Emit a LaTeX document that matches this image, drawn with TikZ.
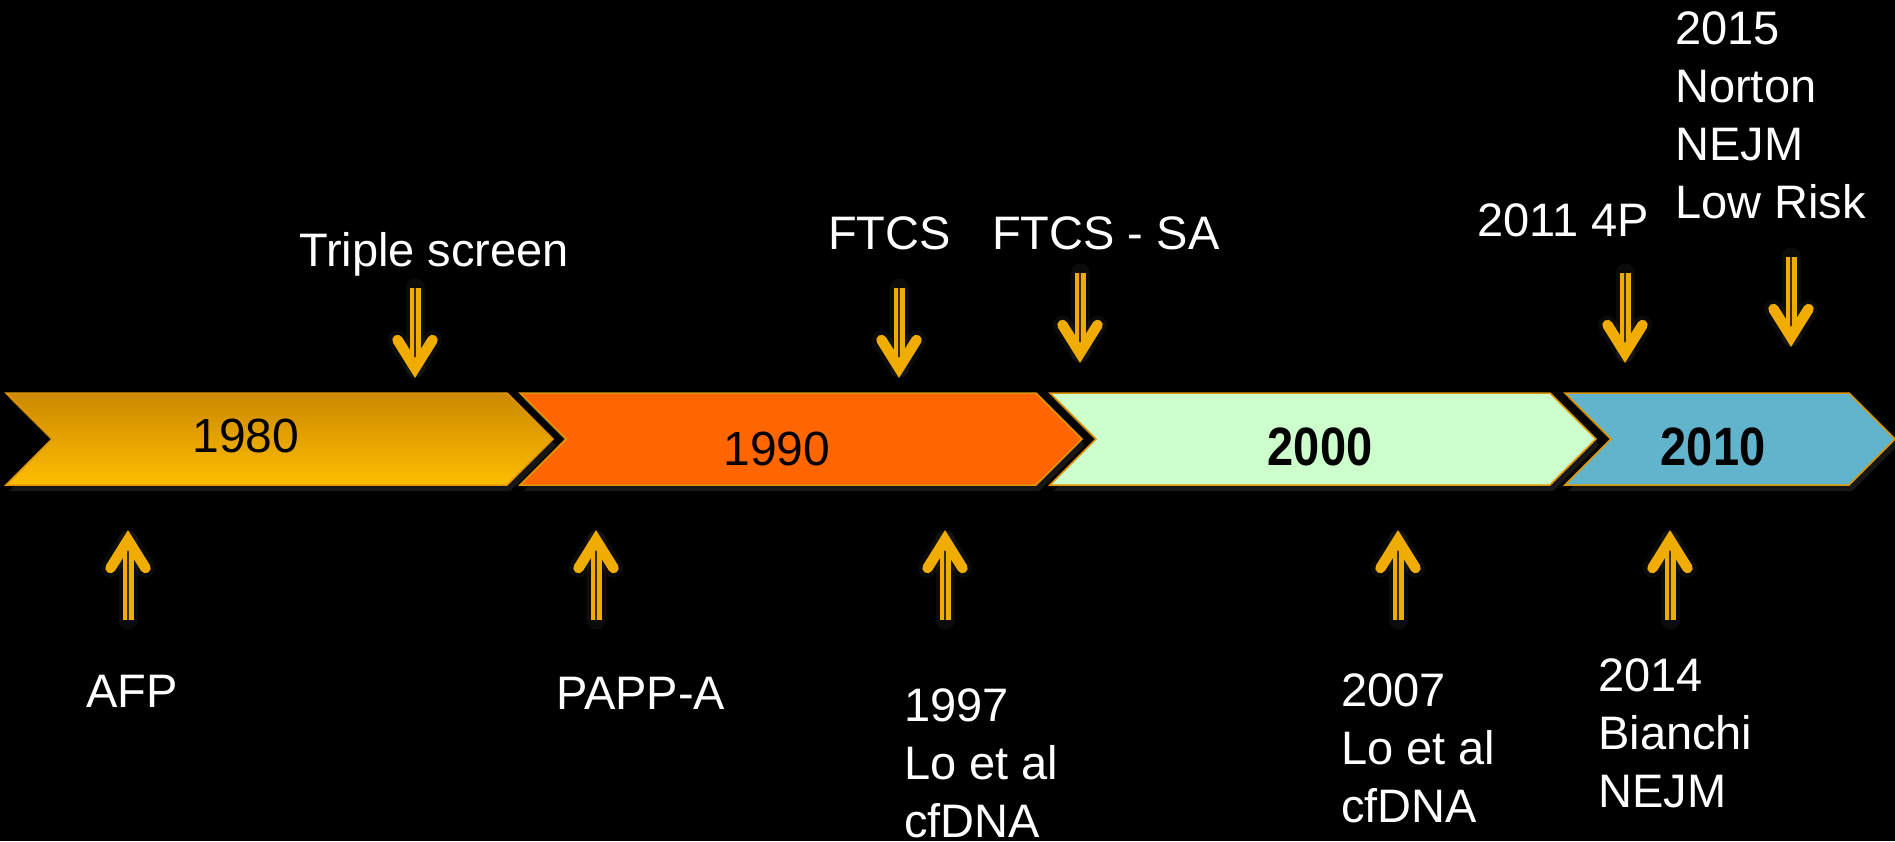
\documentclass[tikz,border=0pt]{standalone}
\usepackage{fontspec}
\setmainfont{Liberation Sans}
\usepackage{graphicx}
\usetikzlibrary{calc}
\definecolor{arrowc}{RGB}{240,172,0}
\definecolor{c1top}{RGB}{204,136,0}
\definecolor{c1bot}{RGB}{253,190,0}
\definecolor{c2}{RGB}{255,102,0}
\definecolor{c3}{RGB}{204,255,204}
\definecolor{c4}{RGB}{98,180,205}
\definecolor{edgec}{RGB}{225,150,0}
\tikzset{
  lbl/.style={text=white, font=\fontsize{47}{58}\selectfont, inner sep=0pt, align=left, anchor=base west},
  yearlbl/.style={text=black, font=\fontsize{48}{56}\selectfont, inner sep=0pt, anchor=base},
  yearbold/.style={text=black, font=\fontsize{54}{60}\selectfont\bfseries, inner sep=0pt, anchor=base},
  chev/.style={draw=edgec, line width=1.5pt, line join=miter},
  chevshadow/.style={fill=gray, opacity=0.18},
  shaft/.style={draw=arrowc, double=black!75!arrowc, double distance=1.8pt, line width=4.6pt},
  head/.style={draw=arrowc, line width=10.5pt, line cap=round, line join=miter},
  glow/.style={draw=gray, opacity=0.09, line width=19pt, line cap=round, line join=round},
}
\newcommand\tldown[3]{%
  \coordinate (#1s) at (#2,#3);
  \coordinate (#1v) at (#2,#3+80);
  \draw[glow] (#1s) -- (#1v);
  \draw[glow] ($(#1v)+(-17.5,-28)$) -- (#1v) -- ($(#1v)+(17.5,-28)$);
  \draw[shaft] (#1s) -- (#1v);
  \draw[head] ($(#1v)+(-17.5,-28)$) -- (#1v) -- ($(#1v)+(17.5,-28)$);
}
\newcommand\tlup[3]{%
  \coordinate (#1s) at (#2,#3);
  \coordinate (#1v) at (#2,#3-80);
  \draw[glow] (#1s) -- (#1v);
  \draw[glow] ($(#1v)+(-17.5,28)$) -- (#1v) -- ($(#1v)+(17.5,28)$);
  \draw[shaft] (#1s) -- (#1v);
  \draw[head] ($(#1v)+(-17.5,28)$) -- (#1v) -- ($(#1v)+(17.5,28)$);
}
\begin{document}
\begin{tikzpicture}[x=1pt,y=-1pt]
\useasboundingbox (0,0) rectangle (1895,841);
\fill[black] (0,0) rectangle (1895,841);

% shadows of chevrons
\begin{scope}[shift={(3,6)}]
\fill[chevshadow] (6,393) -- (507,393) -- (553,439) -- (507,485) -- (6,485) -- (52,439) -- cycle;
\fill[chevshadow] (520,393) -- (1036,393) -- (1082,439) -- (1036,485) -- (520,485) -- (566,439) -- cycle;
\fill[chevshadow] (1050,393) -- (1550,393) -- (1596,439) -- (1550,485) -- (1050,485) -- (1096,439) -- cycle;
\fill[chevshadow] (1565,393) -- (1849,393) -- (1895,439) -- (1849,485) -- (1565,485) -- (1611,439) -- cycle;
\end{scope}

% chevrons
\shade[top color=c1top, bottom color=c1bot] (6,393) -- (507,393) -- (553,439) -- (507,485) -- (6,485) -- (52,439) -- cycle;
\draw[chev] (6,393) -- (507,393) -- (553,439) -- (507,485) -- (6,485) -- (52,439) -- cycle;
\filldraw[chev, fill=c2] (520,393) -- (1036,393) -- (1082,439) -- (1036,485) -- (520,485) -- (566,439) -- cycle;
\filldraw[chev, fill=c3] (1050,393) -- (1550,393) -- (1596,439) -- (1550,485) -- (1050,485) -- (1096,439) -- cycle;
\filldraw[chev, fill=c4] (1565,393) -- (1849,393) -- (1895,439) -- (1849,485) -- (1565,485) -- (1611,439) -- cycle;

\node[yearlbl] (y1980) at (246,452) {1980};
\node[yearlbl] (y1990) at (777,465) {1990};
\node[yearbold] (y2000) at (1320,465) {\scalebox{0.87}[1]{2000}};
\node[yearbold] (y2010) at (1713,465) {\scalebox{0.87}[1]{2010}};

% arrows above
\tldown{triple}{415}{288}
\tldown{ftcsa}{899}{288}
\tldown{ftcssaa}{1080}{273}
\tldown{fourp}{1625}{273}
\tldown{nortona}{1791}{257}

% arrows below
\tlup{afpa}{128}{620}
\tlup{pappa}{596}{620}
\tlup{loa}{945}{620}
\tlup{lob}{1398}{620}
\tlup{bianchia}{1670}{620}

% labels (base anchor = baseline of the last line)
\node[lbl] (tripleL) at (299,266) {Triple screen};
\node[lbl] (ftcsL) at (828,249) {FTCS};
\node[lbl] (ftcssaL) at (992,249) {FTCS - SA};
\node[lbl] (fourpL) at (1477,236) {2011 4P};
\node[lbl] (nortonL) at (1675,218) {2015\\Norton\\NEJM\\Low Risk};
\node[lbl] (afpL) at (86,707) {AFP};
\node[lbl] (pappaL) at (556,709) {PAPP-A};
\node[lbl] (loaL) at (904,837) {1997\\Lo et al\\cfDNA};
\node[lbl] (lobL) at (1341,822) {2007\\Lo et al\\cfDNA};
\node[lbl] (bianchiL) at (1598,807) {2014\\Bianchi\\NEJM};
\end{tikzpicture}
\end{document}
